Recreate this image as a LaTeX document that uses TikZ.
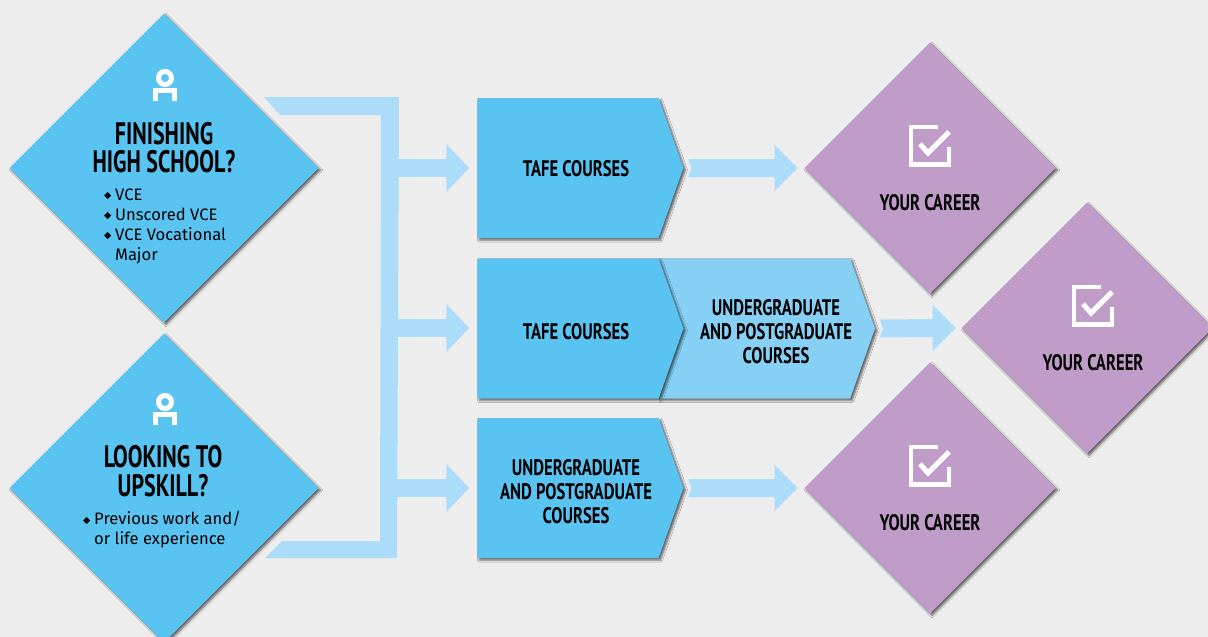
\documentclass[tikz,border=0pt]{standalone}
\usepackage{fontspec}
\setmainfont{Fira Sans}
\newfontfamily\headfont[FakeStretch=0.71]{PT Sans}
\newfontfamily\labelfont[FakeStretch=0.74]{PT Sans}
\newfontfamily\symfont{DejaVu Sans}
\usetikzlibrary{arrows.meta,shapes,calc,shadows.blur}
\definecolor{pagegrey}{HTML}{EDEDED}
\definecolor{skyblue}{HTML}{59C4F2}
\definecolor{paleblue}{HTML}{86D0F6}
\definecolor{bandblue}{HTML}{ABDDFB}
\definecolor{mauve}{HTML}{C09DC9}
\tikzstyle{soft} = [blur shadow={shadow xshift=2pt, shadow yshift=-2pt, shadow blur radius=2pt, shadow opacity=60}]
\tikzstyle{start} = [diamond, aspect=1, fill=skyblue, soft, minimum width=309pt, minimum height=309pt, inner sep=0pt, outer sep=0pt]
\tikzstyle{career} = [diamond, aspect=1, fill=mauve, soft, minimum width=251pt, minimum height=251pt, inner sep=0pt, outer sep=0pt]
\tikzstyle{course} = [signal, signal to=east, signal pointer angle=141, fill=skyblue, soft, minimum width=206pt, minimum height=140pt, inner sep=0pt, outer sep=0pt]
\tikzstyle{further} = [course, signal from=west, fill=paleblue, minimum width=216pt]
\tikzstyle{heading} = [font=\headfont\bfseries\fontsize{31}{28.5}\selectfont, align=center, inner sep=0pt]
\tikzstyle{label} = [font=\labelfont\bfseries\fontsize{22.5}{24}\selectfont, align=center, inner sep=0pt]
\tikzstyle{points} = [font=\fontsize{16.6}{20}\selectfont, align=left, inner sep=0pt, anchor=north west]
\tikzstyle{band} = [draw=bandblue, line width=18pt, shorten >=8pt, -{Triangle[length=23pt, width=46pt]}]
\newcommand{\bul}{\makebox[11pt][l]{\symfont\fontsize{9.5}{9.5}\selectfont\raisebox{1.5pt}{◆}}}
\newcommand{\slimarrow}[3]{\fill[bandblue] ($(#1.east)+(5,-9)$) -- ($(#2.west)+(-#3-23,-9)$) -- ($(#2.west)+(-#3-23,-23)$) -- ($(#2.west)+(-#3,0)$) -- ($(#2.west)+(-#3-23,23)$) -- ($(#2.west)+(-#3-23,9)$) -- ($(#1.east)+(5,9)$) -- ($(#1.east)+(8,0)$) -- cycle;}
\tikzset{
  personicon/.pic={
    \draw [white, line width=5pt] (0,0) circle (6.5pt);
    \draw [white, line width=5pt] (-9.5,23) -- (-9.5,12.5) -- (9.5,12.5) -- (9.5,23);
  },
  tickicon/.pic={
    \draw [white, line width=4.5pt] (8,-20) -- (-19,-20) -- (-19,17.5) -- (19,17.5) -- (19,0);
    \draw [white, line width=5pt] (-10,-3) -- (-2,6) -- (19,-15);
  }
}

\begin{document}
\begin{tikzpicture}[x=1pt, y=-1pt]
    \useasboundingbox (0,0) rectangle (1208,637);
    \clip (0,0) rectangle (1208,637);
    \fill [pagegrey] (0,0) rectangle (1208,637);
    % Draw the trunk behind everything.
    \coordinate (jointa) at (390,168);
    \coordinate (jointb) at (390,328);
    \coordinate (jointc) at (390,488);
    \fill [bandblue] (264,97) -- (399,97) -- (397,558) -- (265,558) -- (282,541) -- (380,541) -- (381,115) -- (280,115) -- cycle;
    % Draw the vertices.
    \node [start] (finish) at (164,168) {};
    \node [start] (upskill) at (164,488) {};
    \node [course] (tafea) at (568,168) {};
    \node [further] (degreeb) at (767,328.5) {};
    \node [course] (tafeb) at (568,328.5) {};
    \node [course] (degreea) at (568,488) {};
    \node [career] (careera) at (930,168) {};
    \node [career] (careerb) at (1087,328) {};
    \node [career] (careerc) at (930,488) {};
    % Trunk -> courses.
    \draw [band] (jointa) -- (tafea.west |- jointa);
    \draw [band] (jointb) -- (tafeb.west |- jointb);
    \draw [band] (jointc) -- (degreea.west |- jointc);
    % Courses -> careers.
    \slimarrow{tafea}{careera}{7}
    \slimarrow{degreeb}{careerb}{6}
    \slimarrow{degreea}{careerc}{7}
    % Draw the texts.
    \node [heading] (finishtitle) at (164,147.5) {FINISHING\\HIGH SCHOOL?};
    \node [points] (finishlist) at (104,188.5) {\bul VCE\\\bul Unscored VCE\\\bul VCE Vocational\\\hspace*{11pt}Major};
    \node [heading] (upskilltitle) at (163,471) {LOOKING TO\\UPSKILL?};
    \node [points] (upskilllist) at (83,511) {\bul Previous work and/\\\hspace*{11pt}or life experience};
    \node [label] (tafealabel) at (576,169) {TAFE COURSES};
    \node [label] (tafeblabel) at (576,332) {TAFE COURSES};
    \node [label] (degreeblabel) at (776,332) {UNDERGRADUATE\\AND POSTGRADUATE\\COURSES};
    \node [label] (degreealabel) at (576,492) {UNDERGRADUATE\\AND POSTGRADUATE\\COURSES};
    \node [label] (careeralabel) at (930,203) {YOUR CAREER};
    \node [label] (careerblabel) at (1093,363) {YOUR CAREER};
    \node [label] (careerclabel) at (930,523) {YOUR CAREER};
    % Draw the icons.
    \pic at (165,78) {personicon};
    \pic at (165,402) {personicon};
    \pic at (930,147) {tickicon};
    \pic at (1093,307) {tickicon};
    \pic at (930,467) {tickicon};
\end{tikzpicture}
\end{document}
